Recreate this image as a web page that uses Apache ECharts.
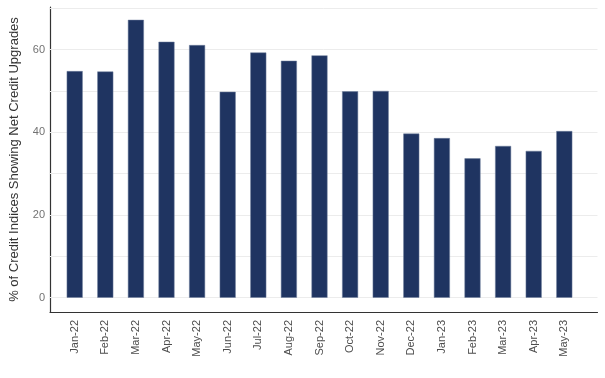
<!DOCTYPE html>
<html>
<head>
<meta charset="utf-8">
<script src="https://cdn.jsdelivr.net/npm/echarts@6/dist/echarts.min.js"></script>
<style>html,body{margin:0;padding:0;background:#fff}#c{width:605px;height:378px}</style>
</head>
<body>
<div id="c"></div>
<script>
var categories = ['Jan-22','Feb-22','Mar-22','Apr-22','May-22','Jun-22','Jul-22','Aug-22','Sep-22','Oct-22','Nov-22','Dec-22','Jan-23','Feb-23','Mar-23','Apr-23','May-23'];
var upgrades = [54.8, 54.7, 67.2, 61.9, 61.1, 49.8, 59.3, 57.3, 58.6, 49.9, 50.0, 39.7, 38.6, 33.7, 36.7, 35.5, 40.3];
var yTicks = [0, 20, 40, 60];
var gridValues = [0, 10, 20, 30, 40, 50, 60, 70];
var yTitle = '% of Credit Indices Showing Net Credit Upgrades';

var Y_MIN = -3.45, Y_MAX = 70.3;
var chart = echarts.init(document.getElementById('c'), null, {renderer: 'canvas'});
var font = 'Liberation Sans, Arial, sans-serif';
chart.setOption({
  animation: false,
  backgroundColor: '#fff',
  grid: [
    {left: 42, right: 7.5, top: 7, bottom: 66},
    {left: 59.4, right: 25.4, top: 7, bottom: 66}
  ],
  xAxis: [
    {type: 'value', gridIndex: 0, min: 0, max: 1, show: true,
     axisLine: {show: true, onZero: false, lineStyle: {color: '#333', width: 1.2}},
     axisTick: {show: false}, axisLabel: {show: false}, splitLine: {show: false}},
    {type: 'category', gridIndex: 1, data: categories,
     axisLine: {show: false}, axisTick: {show: false},
     axisLabel: {rotate: 90, interval: 0, margin: 8, color: '#4d4d4d', fontSize: 11, fontFamily: font}}
  ],
  yAxis: [
    {type: 'value', gridIndex: 0, min: Y_MIN, max: Y_MAX,
     axisLine: {show: true, onZero: false, lineStyle: {color: '#333', width: 1.2}},
     axisTick: {show: false},
     axisLabel: {show: false},
     splitLine: {show: false},
     name: yTitle, nameLocation: 'middle', nameGap: 29,
     nameTextStyle: {color: '#333', fontSize: 13, fontFamily: font}},
    {type: 'value', gridIndex: 1, min: Y_MIN, max: Y_MAX, show: false}
  ],
  series: [
    {type: 'line', xAxisIndex: 0, yAxisIndex: 0, data: [], silent: true, z: 1,
     markLine: {symbol: 'none', silent: true, animation: false, z: 1,
       label: {show: false},
       lineStyle: {color: '#ececec', width: 1, type: 'solid'},
       data: gridValues.map(function(v){return {yAxis: v};})}},
    {type: 'bar', xAxisIndex: 1, yAxisIndex: 1, data: upgrades, barWidth: 16, z: 10,
     itemStyle: {color: '#1f3461', borderColor: '#6f7f9c', borderWidth: 0.5}},
    {type: 'scatter', xAxisIndex: 0, yAxisIndex: 0, symbolSize: 0, silent: true,
     data: yTicks.map(function(v){return [0, v];}),
     label: {show: true, position: 'left', distance: 5, formatter: function(p){return p.value[1];},
       color: '#4d4d4d', fontSize: 11, fontFamily: font}}
  ]
});
</script>
</body>
</html>
